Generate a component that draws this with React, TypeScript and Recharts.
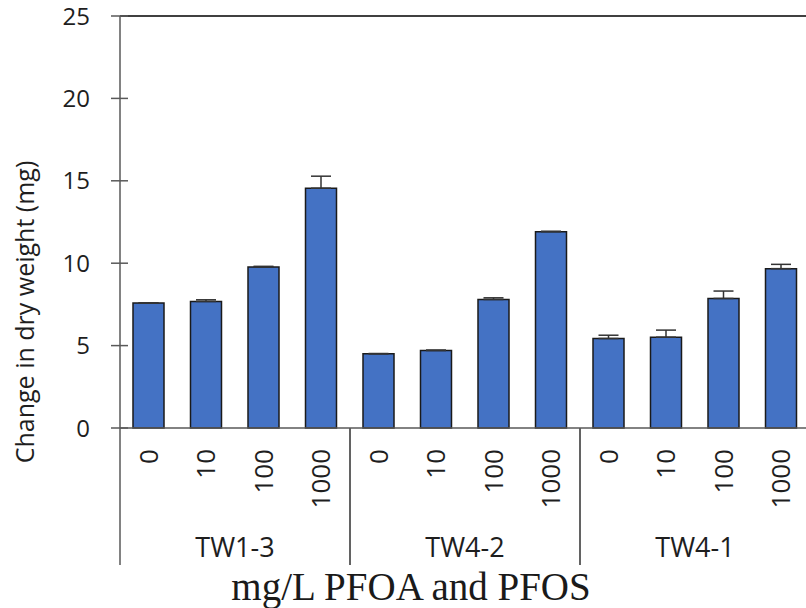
import React from "react";
import { BarChart, Bar, XAxis, YAxis, ErrorBar, ReferenceLine } from "recharts";

const strains = ["TW1-3", "TW4-2", "TW4-1"];
const doses = ["0", "10", "100", "1000"];
const means = [7.58, 7.68, 9.77, 14.55, 4.5, 4.7, 7.8, 11.91, 5.43, 5.51, 7.86, 9.67];
const errs = [0.02, 0.1, 0.04, 0.73, 0.02, 0.03, 0.1, 0.03, 0.2, 0.43, 0.45, 0.26];
const yTicks = [0, 5, 10, 15, 20, 25];

const data = means.map((v, i) => ({
  dose: doses[i % 4],
  group: strains[Math.floor(i / 4)],
  value: v,
  err: [0, errs[i]],
}));

const sans = "'Open Sans', sans-serif";
const axisColor = "#595959";
const textColor = "#1e1e1e";

const YTick = (props: any) => {
  const { x, y, payload } = props;
  return (
    <g>
      <line x1={x - 9} x2={x + 8} y1={y} y2={y} stroke={axisColor} strokeWidth={1.5} />
      <text x={x - 30} y={y} dy={8.5} textAnchor="end" fontSize={24} fontFamily={sans} fill={textColor}>
        {payload.value}
      </text>
    </g>
  );
};

const XTick = (props: any) => {
  const { x, y, payload, index } = props;
  const half = payload.offset || 0;
  const d = data[index];
  return (
    <g>
      <text
        x={x}
        y={y + 21}
        transform={`rotate(-90, ${x}, ${y + 21})`}
        textAnchor="end"
        dy={9}
        fontSize={26}
        fontFamily={sans}
        fill={textColor}
      >
        {payload.value}
      </text>
      {index % 4 === 0 && (
        <line x1={x - half} x2={x - half} y1={y} y2={y + 137} stroke={axisColor} strokeWidth={1.5} />
      )}
      {index % 4 === 3 && (
        <line x1={x + half} x2={x + half} y1={y} y2={y + 137} stroke={axisColor} strokeWidth={1.5} />
      )}
      {index % 4 === 1 && (
        <text x={x + half} y={y + 129} textAnchor="middle" fontSize={27} fontFamily={sans} fill={textColor}>
          {d.group}
        </text>
      )}
    </g>
  );
};

export default function App() {
  return (
    <div style={{ position: "absolute", left: 0, top: 0, width: 806, height: 608, overflow: "hidden", background: "#fff" }}>
      <BarChart
        width={830}
        height={608}
        data={data}
        margin={{ top: 16, right: 20, left: 0, bottom: 0 }}
        barCategoryGap={0}
      >
        <XAxis
          dataKey="dose"
          interval={0}
          height={180}
          tickLine={false}
          tickSize={0}
          tickMargin={0}
          axisLine={{ stroke: axisColor, strokeWidth: 1.5 }}
          tick={<XTick />}
        />
        <YAxis
          domain={[0, 25]}
          ticks={yTicks}
          width={120}
          tickLine={false}
          tickSize={0}
          tickMargin={0}
          axisLine={{ stroke: axisColor, strokeWidth: 1.5 }}
          tick={<YTick />}
        />
        <ReferenceLine y={25} stroke="#404040" strokeWidth={2} />
        <Bar dataKey="value" fill="#4472C4" stroke="#1a1a1a" strokeWidth={1.5} barSize={31} isAnimationActive={false}>
          <ErrorBar dataKey="err" direction="y" width={10} stroke="#333" strokeWidth={1.5} />
        </Bar>
      </BarChart>
      <svg width={806} height={608} style={{ position: "absolute", left: 0, top: 0, pointerEvents: "none" }}>
        <text
          x={0}
          y={0}
          transform="translate(34, 312) rotate(-90)"
          textAnchor="middle"
          fontSize={25}
          fontFamily={sans}
          fill={textColor}
        >
          Change in dry weight (mg)
        </text>
        <text x={411} y={600} textAnchor="middle" fontSize={39} fontFamily="'Liberation Serif', 'Times New Roman', serif" fill="#1a1a1a">
          mg/L PFOA and PFOS
        </text>
      </svg>
    </div>
  );
}
